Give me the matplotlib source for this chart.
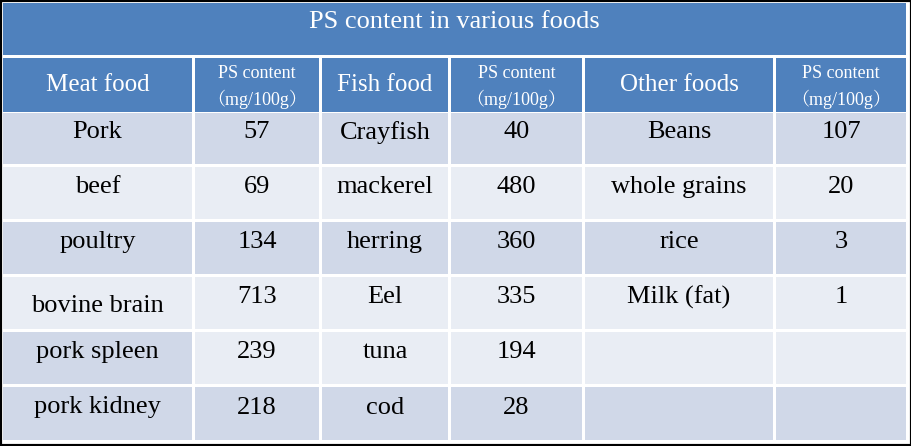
import matplotlib
matplotlib.use("Agg")
import matplotlib.pyplot as plt
from matplotlib.patches import Rectangle

title = "PS content in various foods"
headers = ["Meat food", "PS content\n（mg/100g）", "Fish food", "PS content\n（mg/100g）", "Other foods", "PS content\n（mg/100g）"]
meat = ["Pork", "beef", "poultry", "bovine brain", "pork spleen", "pork kidney"]
meat_ps = ["57", "69", "134", "713", "239", "218"]
fish = ["Crayfish", "mackerel", "herring", "Eel", "tuna", "cod"]
fish_ps = ["40", "480", "360", "335", "194", "28"]
other = ["Beans", "whole grains", "rice", "Milk (fat)", "", ""]
other_ps = ["107", "20", "3", "1", "", ""]

cols = [(3, 192), (195, 319), (322, 448), (451, 582), (585, 773), (776, 906)]
rows = [(113, 164), (167, 219), (222, 274), (277, 329), (332, 384), (387, 440)]
DARK, LIGHT, BLUE = "#D0D8E8", "#E9EDF4", "#4F81BD"
shade = [[DARK]*6, [LIGHT]*6, [DARK]*6, [LIGHT]*6, [DARK]+[LIGHT]*5, [DARK]*6]

fig = plt.figure(figsize=(9.12, 4.46), dpi=100)
ax = fig.add_axes([0, 0, 1, 1])
ax.set_xlim(0, 912); ax.set_ylim(446, 0); ax.axis("off")
fam = ["Liberation Serif", "Noto Serif CJK SC", "Noto Sans CJK SC", "DejaVu Serif"]

ax.add_patch(Rectangle((0, 0), 912, 446, fc="white", ec="black", lw=3))
ax.add_patch(Rectangle((3, 3), 903, 52, fc=BLUE, ec="none"))
ax.text(454, 22, title, ha="center", va="center", color="white", fontsize=19, family=fam)
for j, (x0, x1) in enumerate(cols):
    ax.add_patch(Rectangle((x0, 58), x1 - x0, 54, fc=BLUE, ec="none"))
    h = headers[j]
    if "\n" in h:
        a, b = h.split("\n")
        ax.text((x0+x1)/2, 73, a, ha="center", va="center", color="white", fontsize=13, family=fam)
        ax.text((x0+x1)/2, 99, b, ha="center", va="center", color="white", fontsize=13, family=fam)
    else:
        ax.text((x0+x1)/2, 85, h, ha="center", va="center", color="white", fontsize=18, family=fam)

data = [meat, meat_ps, fish, fish_ps, other, other_ps]
for i, (y0, y1) in enumerate(rows):
    for j, (x0, x1) in enumerate(cols):
        ax.add_patch(Rectangle((x0, y0), x1 - x0, y1 - y0, fc=shade[i][j], ec="none"))
        ty = (y0 + y1)/2 - 6
        if i == 3 and j == 0:
            ty += 9
        ax.text((x0+x1)/2, ty, data[j][i], ha="center", va="center", color="black", fontsize=19, family=fam)

fig.savefig("out.png", dpi=100)
